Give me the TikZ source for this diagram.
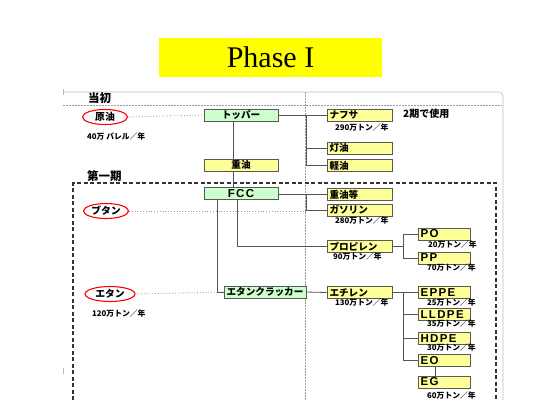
\documentclass[tikz,border=0pt]{standalone}
\usepackage{fontspec}
\setmainfont{Liberation Serif}
\newfontfamily\cjk{Noto Sans CJK JP}
\newfontfamily\lat[LetterSpace=12]{Liberation Sans}
\definecolor{gfill}{HTML}{CCFFCC}
\definecolor{yfill}{HTML}{FFFF99}
\definecolor{titley}{HTML}{FFFF00}
\definecolor{frameblue}{HTML}{A8BED6}
\definecolor{linegrey}{HTML}{555555}
\definecolor{dotgrey}{HTML}{999999}
\tikzset{
  box/.style={draw=black!65, line width=0.6pt, minimum height=12pt, inner ysep=0pt, inner xsep=2.5pt, anchor=center},
  gbox/.style={box, fill=gfill},
  ybox/.style={box, fill=yfill},
  jt/.style={font=\cjk\bfseries\fontsize{9.6}{9.6}\selectfont},
  lt/.style={font=\lat\bfseries\fontsize{11.5}{11.5}\selectfont},
  wmid/.style={minimum width=74pt, align=center},
  wright/.style={text width=60pt, align=left},
  wsmall/.style={text width=47pt, align=left},
  small/.style={font=\cjk\bfseries\fontsize{7.8}{7.8}\selectfont, anchor=west, inner sep=0pt},
  hdr/.style={font=\cjk\bfseries\fontsize{11.5}{11.5}\selectfont, anchor=west, inner sep=0pt},
  feed/.style={draw=red, line width=1.1pt, fill=white, ellipse, minimum width=45pt, minimum height=15pt, inner sep=0pt, font=\cjk\bfseries\fontsize{9.8}{9.8}\selectfont},
  conn/.style={draw=linegrey, line width=0.8pt},
  feedline/.style={draw=dotgrey, line width=0.8pt, dotted},
  sep/.style={draw=dotgrey, line width=0.7pt, dash pattern=on 1.5pt off 1.5pt},
  phase/.style={draw=black!80, line width=1.3pt, dash pattern=on 4pt off 2.5pt},
}
\usetikzlibrary{shapes.geometric}
\begin{document}
\begin{tikzpicture}[x=1pt,y=-1pt]
\useasboundingbox (0,0) rectangle (554,416);
\fill[white] (0,0) rectangle (554,416);

% title
\node[fill=titley, minimum width=223pt, minimum height=39pt, inner sep=0pt, font=\fontsize{30}{30}\selectfont] (title) at (270.5,57.5) {Phase I};

% frames and separators
\draw[frameblue, line width=0.6pt] (63,92) -- (499,92) to[out=0,in=90] (503,96) -- (503,400);
\draw[frameblue, line width=0.6pt] (63,89) -- (63,95);
\draw[frameblue, line width=0.8pt] (63,368) -- (63,374);
\draw[sep] (63,105) -- (502,105);
\draw[sep] (305,92) -- (305,400);
\draw[phase] (73,400) -- (73,183) -- (496,183) -- (496,400);

\node[hdr] (toushohdr) at (88,98) {当初};
\node[hdr] (dai1hdr) at (87,176) {第一期};

% feeds
\node[feed] (crude) at (105,117) {原油};
\node[small] (crudecap) at (87,137) {40万 バレル／年};
\node[feed] (butane) at (106,211) {ブタン};
\node[feed, minimum width=50pt] (ethane) at (110,294) {エタン};
\node[small] (ethanecap) at (92,314) {120万トン／年};

% left-middle column
\node[gbox, jt, wmid] (topper) at (241,115) {トッパー};
\node[ybox, jt, wmid] (juyu) at (241,165) {重油};
\node[gbox, lt, wmid] (fcc) at (241,193.5) {FCC};
\node[gbox, jt, minimum width=82pt, align=center] (cracker) at (265,292) {エタンクラッカー};

% right column
\node[ybox, jt, wright] (naphtha) at (359.5,115) {ナフサ};
\node[small] (naphthacap) at (335,128) {290万トン／年};
\node[hdr, font=\cjk\bfseries\fontsize{10}{10}\selectfont] (use2) at (403,114) {2期で使用};
\node[ybox, jt, wright] (toyu) at (359.5,148) {灯油};
\node[ybox, jt, wright] (keiyu) at (359.5,165.5) {軽油};
\node[ybox, jt, wright] (juyuto) at (359.5,194.5) {重油等};
\node[ybox, jt, wright] (gasoline) at (359.5,210) {ガソリン};
\node[small] (gasolinecap) at (335,221) {280万トン／年};
\node[ybox, jt, wright] (propylene) at (359.5,246.5) {プロピレン};
\node[small] (propylenecap) at (333,257) {90万トン／年};
\node[ybox, jt, wright] (ethylene) at (359.5,292.5) {エチレン};
\node[small] (ethylenecap) at (335,303) {130万トン／年};

% far right column
\node[ybox, lt, wsmall] (po) at (444,234) {PO};
\node[small] (pocap) at (428,245) {20万トン／年};
\node[ybox, lt, wsmall] (pp) at (444,258) {PP};
\node[small] (ppcap) at (427,268) {70万トン／年};
\node[ybox, lt, wsmall] (eppe) at (444,292.5) {EPPE};
\node[small] (eppecap) at (427,303) {25万トン／年};
\node[ybox, lt, wsmall] (lldpe) at (444,314.5) {LLDPE};
\node[small] (lldpecap) at (427,324) {35万トン／年};
\node[ybox, lt, wsmall] (hdpe) at (444,338.5) {HDPE};
\node[small] (hdpecap) at (427,348) {30万トン／年};
\node[ybox, lt, wsmall] (eo) at (444,360.5) {EO};
\node[ybox, lt, wsmall] (eg) at (444,382) {EG};
\node[small] (egcap) at (427,396) {60万トン／年};

% junction coordinates
\coordinate (j1) at (306,115);
\coordinate (j2) at (306,194.5);
\coordinate (j3) at (403,246.5);
\coordinate (j4) at (403,292.5);
\coordinate (fccA) at (237,199.5);
\coordinate (fccB) at (217,199.5);
\coordinate (butaneend) at (306,211);

% feed lines
\draw[feedline] (crude.east) -- (topper.west);
\draw[feedline] (butane.east) -- (butaneend);
\draw[feedline] (ethane.east) -- (cracker.west);

% connectors
\draw[conn] (topper.south -| 233,0) -- (juyu.north -| 233,0);
\draw[conn] (juyu.south -| 233,0) -- (fcc.north -| 233,0);
\draw[conn] (topper.east) -- (naphtha.west);
\draw[conn] (j1) |- (toyu.west);
\draw[conn] (j1) |- (keiyu.west);
\draw[conn] (fcc.east |- juyuto.west) -- (juyuto.west);
\draw[conn] (j2) |- (gasoline.west);
\draw[conn] (fccA) |- (propylene.west);
\draw[conn] (fccB) |- (cracker.west);
\draw[conn] (cracker.east) -- (ethylene.west);
\draw[conn] (propylene.east) -- (j3);
\draw[conn] (j3) |- (po.west);
\draw[conn] (j3) |- (pp.west);
\draw[conn] (ethylene.east) -- (eppe.west);
\draw[conn] (j4) |- (lldpe.west);
\draw[conn] (j4) |- (hdpe.west);
\draw[conn] (j4) |- (eo.west);
\draw[conn] (eo.south -| 435,0) -- (eg.north -| 435,0);
\end{tikzpicture}
\end{document}
